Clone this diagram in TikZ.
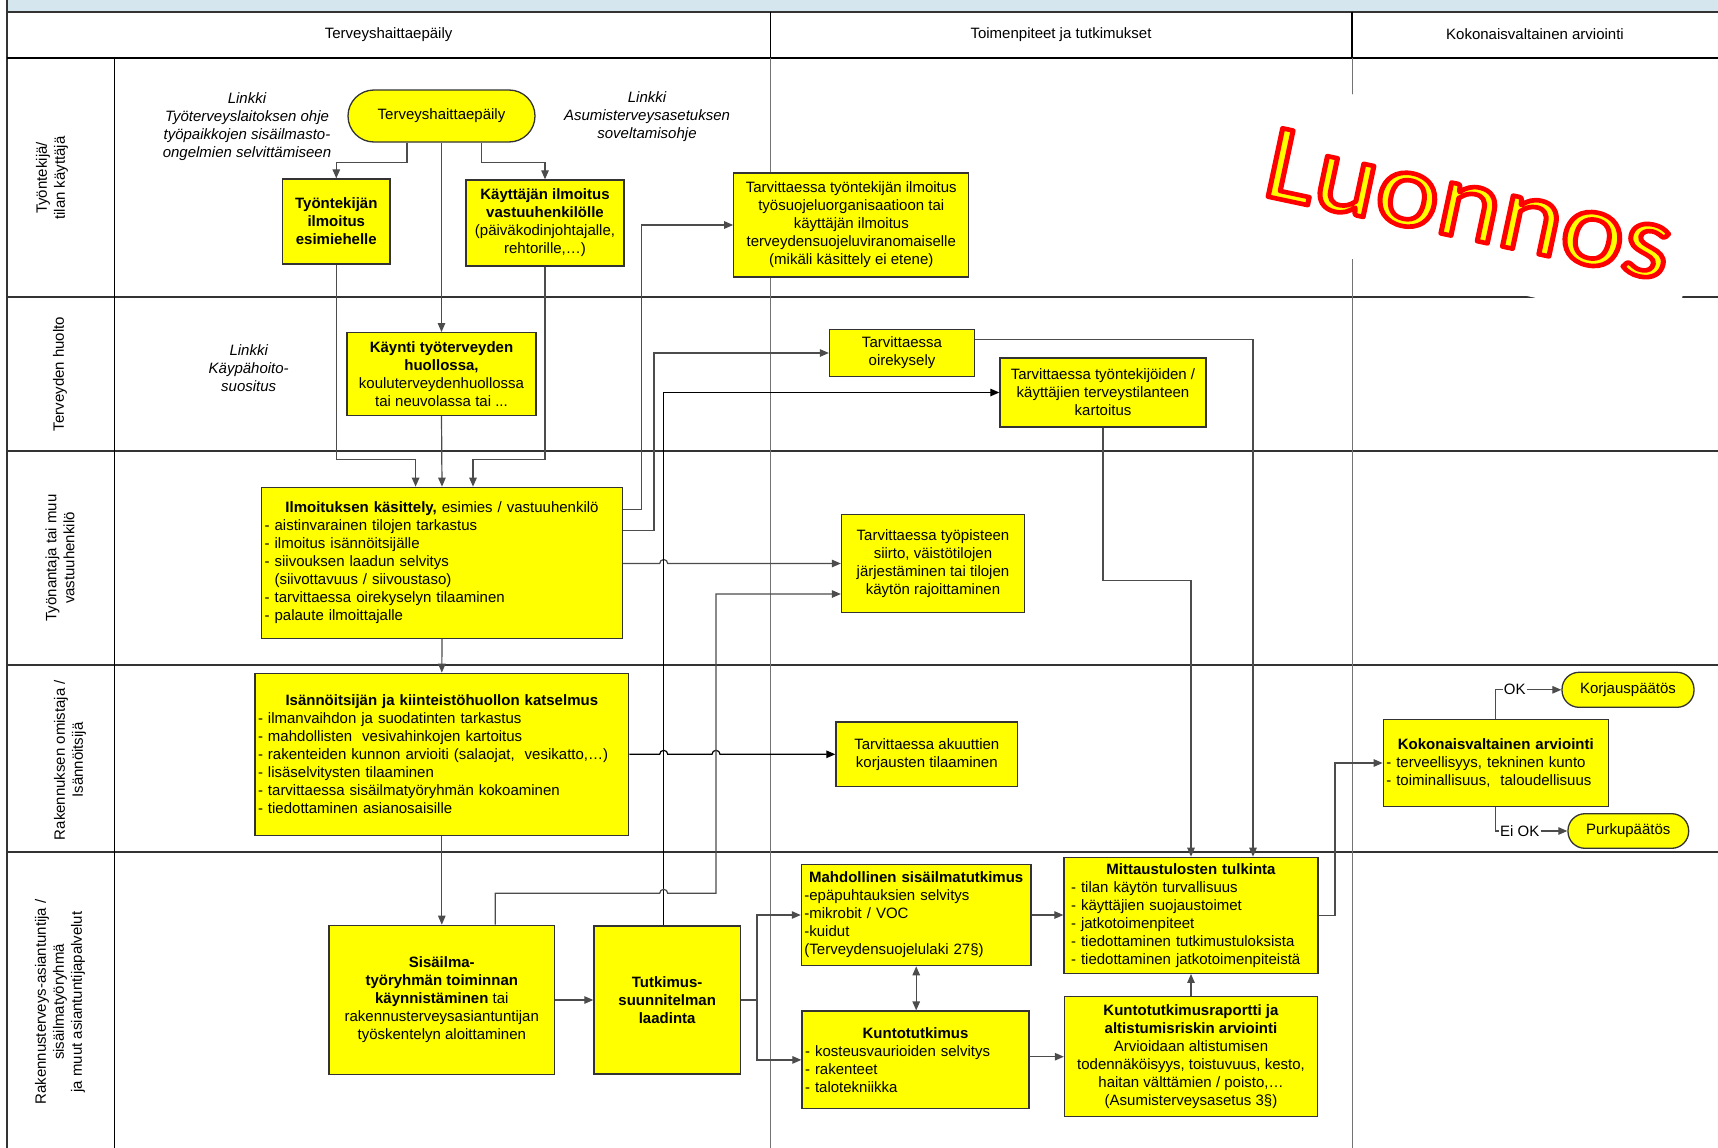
\documentclass[tikz,border=0pt]{standalone}
\usepackage{fontspec}
\setmainfont{Liberation Sans}
\newfontfamily\luonnosfont{Carlito}
\usepackage{tikz}
\usetikzlibrary{arrows.meta}
\definecolor{kelta}{RGB}{255,255,0}
\definecolor{otsake}{RGB}{214,230,238}
\newcommand{\otsikko}[1]{\makebox[\linewidth][c]{#1}}
\newcommand{\reunus}[1]{\special{pdf:literal direct 2 Tr 1 0 0 RG 4.6 w 1 j}#1\special{pdf:literal direct 0 Tr}}

\begin{document}
\begin{tikzpicture}[x=1pt, y=-1pt,
    font=\fontsize{15}{18}\selectfont,
    laatikko/.style={draw=black!80, fill=kelta, line width=1.3pt, align=center, inner sep=3pt},
    luettelo/.style={laatikko, align=left},
    paate/.style={laatikko, rounded corners=17pt},
    yhteys/.style={draw=black!70, line width=1.2pt},
    nuoli/.style={yhteys, -{Triangle[length=9pt, width=7.5pt]}},
    kaksi/.style={yhteys, {Triangle[length=9pt, width=7.5pt]}-{Triangle[length=9pt, width=7.5pt]}},
    kaista/.style={rotate=90, align=center},
    linkki/.style={font=\fontsize{15}{18}\selectfont\itshape, align=center},
    merkki/.style={inner sep=1pt},
    luonnos/.style={font=\luonnosfont\fontsize{109}{109}\selectfont, rotate=-12, xscale=1.1, anchor=base west, inner sep=0pt}]
    \useasboundingbox (0,0) rectangle (1718,1148);
    % kehys ja kaistat
    \fill[otsake] (6.6,0) rectangle (1718,11.7);
    \draw[line width=2pt, black!80] (6.6,0) -- (6.6,1148);
    \draw[line width=2pt, black!80] (6.6,11.7) -- (1718,11.7);
    \draw[line width=1.5pt] (6.6,58) -- (1718,58);
    \foreach \y in {297,451,665,852}
        \draw[line width=2pt, black!80] (6.6,\y) -- (1718,\y);
    \draw[line width=1.5pt] (114.6,58) -- (114.6,1148);
    \foreach \x in {770.7,1352} {
        \draw[line width=1.5pt] (\x,11.7) -- (\x,58);
        \draw[black!55, line width=1pt] (\x,58) -- (\x,1148);
    }
    \node (sarake1) at (388.6,34.5) {Terveyshaittaepäily};
    \node (sarake2) at (1061,34.5) {Toimenpiteet ja tutkimukset};
    \node (sarake3) at (1535,34.5) {Kokonaisvaltainen arviointi};
    \node[kaista] (kaista1) at (52,178) {Työntekijä/\\tilan käyttäjä};
    \node[kaista] (kaista2) at (60,374) {Terveyden huolto};
    \node[kaista] (kaista3) at (60,558) {Työnantaja tai muu\\vastuuhenkilö};
    \node[kaista] (kaista4) at (70,760) {Rakennuksen omistaja /\\Isännöitsijä};
    \node[kaista] (kaista5) at (60,1002) {Rakennusterveys-asiantuntija /\\sisäilmatyöryhmä\\ja muut asiantuntijapalvelut};
    \node[linkki] (linkki1) at (247,127) {Linkki\\Työterveyslaitoksen ohje\\työpaikkojen sisäilmasto-\\ongelmien selvittämiseen};
    \node[linkki] (linkki2) at (647,117) {Linkki\\Asumisterveysasetuksen\\soveltamisohje};
    \node[linkki] (linkki3) at (248.7,367.7) {Linkki\\Käypähoito-\\suositus};
    % laatikot
    \node[paate, rounded corners=26pt, minimum width=187, minimum height=52] (alku) at (441.5,116) {Terveyshaittaepäily};
    \node[laatikko, minimum width=107.5, minimum height=85] (esimies) at (336.3,221.5) {\textbf{Työntekijän}\\\textbf{ilmoitus}\\\textbf{esimiehelle}};
    \node[laatikko, minimum width=158, minimum height=86] (vastuu) at (545,223) {\textbf{Käyttäjän ilmoitus}\\\textbf{vastuuhenkilölle}\\(päiväkodinjohtajalle,\\rehtorille,…)};
    \node[laatikko, minimum width=235, minimum height=104] (tsilmoitus) at (851.3,225) {Tarvittaessa työntekijän ilmoitus\\työsuojeluorganisaatioon tai\\käyttäjän ilmoitus\\terveydensuojeluviranomaiselle\\(mikäli käsittely ei etene)};
    \node[laatikko, minimum width=189, minimum height=82.6] (kaynti) at (441.5,374) {\textbf{Käynti työterveyden}\\\textbf{huollossa,}\\kouluterveydenhuollossa\\tai neuvolassa tai ...};
    \node[luettelo, text width=354.7, minimum height=151] (kasittely) at (442,562.8) {\otsikko{\textbf{Ilmoituksen käsittely,} esimies / vastuuhenkilö}\\- aistinvarainen tilojen tarkastus\\- ilmoitus isännöitsijälle\\- siivouksen laadun selvitys\\\phantom{-\ }(siivottavuus / siivoustaso)\\- tarvittaessa oirekyselyn tilaaminen\\- palaute ilmoittajalle};
    \node[laatikko, minimum width=145, minimum height=46.6] (oirekysely) at (902,353) {Tarvittaessa\\oirekysely};
    \node[laatikko, minimum width=206, minimum height=69] (kartoitus) at (1103,392.5) {Tarvittaessa työntekijöiden /\\käyttäjien terveystilanteen\\kartoitus};
    \node[laatikko, minimum width=183, minimum height=98.4] (siirto) at (933,563.5) {Tarvittaessa työpisteen\\siirto, väistötilojen\\järjestäminen tai tilojen\\käytön rajoittaminen};
    \node[luettelo, text width=367.6, minimum height=162] (katselmus) at (441.8,754.3) {\otsikko{\textbf{Isännöitsijän ja kiinteistöhuollon katselmus}}\\- ilmanvaihdon ja suodatinten tarkastus\\- mahdollisten\ \ vesivahinkojen kartoitus\\- rakenteiden kunnon arvioiti (salaojat,\ \ vesikatto,…)\\- lisäselvitysten tilaaminen\\- tarvittaessa sisäilmatyöryhmän kokoaminen\\- tiedottaminen asianosaisille};
    \node[laatikko, minimum width=181.7, minimum height=64.4] (akuutti) at (926.8,754.3) {Tarvittaessa akuuttien\\korjausten tilaaminen};
    \node[laatikko, minimum width=225.6, minimum height=149.4] (sisailma) at (441.8,1000) {\textbf{Sisäilma-}\\\textbf{työryhmän toiminnan}\\\textbf{käynnistäminen} tai\\rakennusterveysasiantuntijan\\työskentelyn aloittaminen};
    \node[laatikko, minimum width=146.5, minimum height=148] (tutkimus) at (667.2,1000) {\textbf{Tutkimus-}\\\textbf{suunnitelman}\\\textbf{laadinta}};
    \node[luettelo, text width=223.6, minimum height=101.4] (mahdollinen) at (916.2,915) {\otsikko{\textbf{Mahdollinen sisäilmatutkimus}}\\-epäpuhtauksien selvitys\\-mikrobit / VOC\\-kuidut\\(Terveydensuojelulaki 27§)};
    \node[luettelo, text width=221, minimum height=97.7] (kunto) at (915.5,1059.9) {\otsikko{\textbf{Kuntotutkimus}}\\- kosteusvaurioiden selvitys\\- rakenteet\\- talotekniikka};
    \node[luettelo, inner xsep=7pt, text width=240, minimum height=116] (tulkinta) at (1191,915.3) {\otsikko{\textbf{Mittaustulosten tulkinta}}\\- tilan käytön turvallisuus\\- käyttäjien suojaustoimet\\- jatkotoimenpiteet\\- tiedottaminen tutkimustuloksista\\- tiedottaminen jatkotoimenpiteistä};
    \node[laatikko, minimum width=253, minimum height=120] (raportti) at (1191,1056.7) {\textbf{Kuntotutkimusraportti ja}\\\textbf{altistumisriskin arviointi}\\Arvioidaan altistumisen\\todennäköisyys, toistuvuus, kesto,\\haitan välttämien / poisto,…\\(Asumisterveysasetus 3§)};
    \node[luettelo, text width=219, minimum height=87.4] (kokonais) at (1495.8,763) {\otsikko{\textbf{Kokonaisvaltainen arviointi}}\\- terveellisyys, tekninen kunto\\- toiminallisuus,\ \ taloudellisuus};
    \node[paate, minimum width=132, minimum height=35] (korjaus) at (1628,689.8) {Korjauspäätös};
    \node[paate, minimum width=120.7, minimum height=34.6] (purku) at (1628.3,831) {Purkupäätös};
    % yhteydet
    \draw[nuoli] ([xshift=-34.5]alku.south) -- ++(0,20) -| (esimies.north);
    \draw[nuoli] ([xshift=40]alku.south) -- ++(0,20) -| (vastuu.north);
    \draw[nuoli] (alku.south) -- (kaynti.north);
    \draw[nuoli] (esimies.south) -- ++(0,194.7) -| ([xshift=-26.4]kasittely.north);
    \draw[nuoli] (kaynti.south) -- (kasittely.north);
    \draw[nuoli] (vastuu.south) -- ++(0,192.7) -| ([xshift=31]kasittely.north);
    \draw[nuoli] (kasittely.east |- 0,509.7) -- (641.5,509.7) |- (tsilmoitus.west);
    \draw[nuoli] (kasittely.east |- 0,530.7) -- (654,530.7) |- (oirekysely.west);
    \draw[nuoli] (kasittely.east |- siirto.west) -- (659.7,563.5) arc[start angle=180, end angle=360, radius=4] -- (siirto.west);
    \draw[nuoli, draw=black] (tutkimus.north -| 663.7,0) |- (kartoitus.west);
    \draw[nuoli] (kasittely.south) -- (katselmus.north);
    \draw[nuoli, draw=black] (katselmus.east) -- (659.7,754.3) arc[start angle=180, end angle=360, radius=4] -- (712,754.3) arc[start angle=180, end angle=360, radius=4] -- (akuutti.west);
    \draw[nuoli] (katselmus.south) -- (sisailma.north);
    \draw[nuoli] (sisailma.north -| 495.3,0) -- (495.3,893.3) -- (659.7,893.3) arc[start angle=180, end angle=360, radius=4] -- (716,893.3) -- (716,594) -- (siirto.west |- 0,594);
    \draw[nuoli] (sisailma.east) -- (tutkimus.west);
    \coordinate (haara) at (757,1000);
    \draw[nuoli] (tutkimus.east) -- (haara) |- (mahdollinen.west);
    \draw[nuoli] (haara) |- (kunto.west);
    \draw[kaksi] (mahdollinen.south) -- (mahdollinen.south |- kunto.north);
    \draw[nuoli] (mahdollinen.east) -- (mahdollinen.east -| tulkinta.west);
    \draw[nuoli] (kunto.east |- raportti.west) -- (raportti.west);
    \draw[nuoli] (raportti.north) -- (tulkinta.south);
    \draw[nuoli] (oirekysely.east |- 0,339.7) -| ([xshift=62]tulkinta.north);
    \draw[nuoli] (kartoitus.south) -- (1103,580.7) -| (tulkinta.north);
    \draw[nuoli] (tulkinta.east) -- (1335,915.3) |- (kokonais.west);
    \node[merkki] (ok) at (1514.8,689.8) {OK};
    \node[merkki] (eiok) at (1519.7,831) {Ei OK};
    \draw[yhteys] (kokonais.north) |- (ok.west);
    \draw[nuoli] (ok.east) -- (korjaus.west);
    \draw[yhteys] (kokonais.south) |- (eiok.west);
    \draw[nuoli] (eiok.east) -- (purku.west);
    % leima
    \node[fill=white, rotate=-12, minimum width=455, minimum height=161] (pohja) at (1470,201.6) {};
    \node[luonnos, text=kelta] (leima) at (1260,195) {\reunus{Luonnos}};
\end{tikzpicture}
\end{document}
